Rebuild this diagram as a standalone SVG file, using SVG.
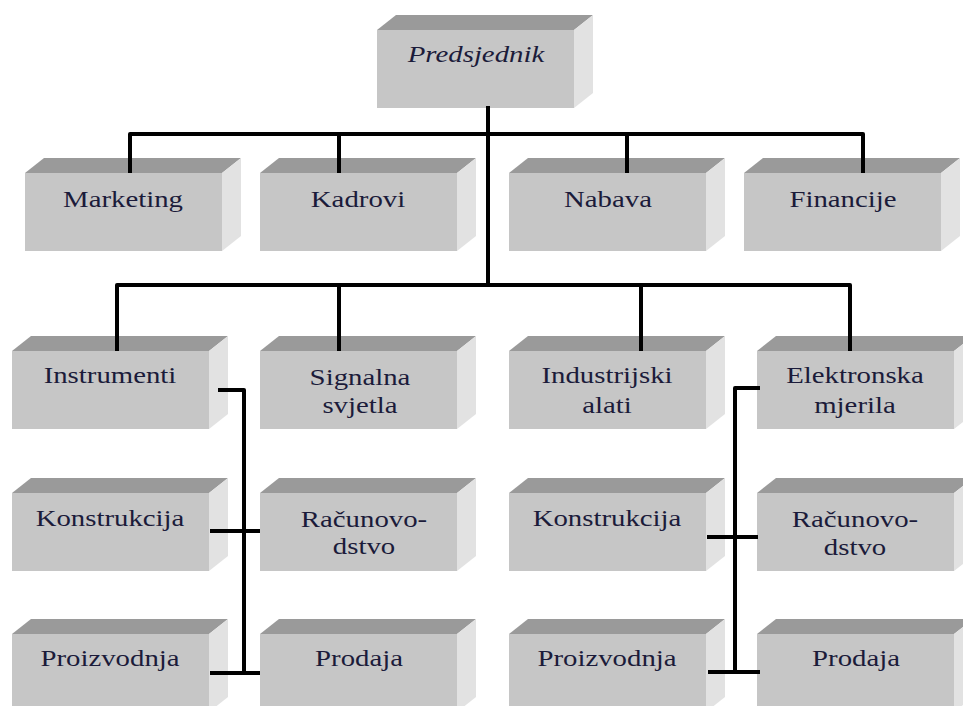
<svg xmlns="http://www.w3.org/2000/svg" xmlns:xlink="http://www.w3.org/1999/xlink" width="963" height="706" viewBox="0 0 963 706">
<style>
.t{font-family:'Liberation Serif','Times New Roman',Times,'DejaVu Serif',serif;font-size:24px;fill:#1b1b3a;text-anchor:middle}
.it{font-style:italic}
.c{fill:none;stroke:#000;stroke-width:4;stroke-linejoin:round;stroke-linecap:butt}
</style>
<defs>
<g id="box">
<rect x="0" y="0" width="197" height="78" fill="#c6c6c6"/>
<polygon points="0,0 19,-15 216,-15 197,0" fill="#9a9a9a"/>
<polygon points="197,0 216,-15 216,63 197,78" fill="#e2e2e2"/>
</g>
</defs>
<rect width="963" height="706" fill="#fff"/>

<g id="n-predsjednik"><use xlink:href="#box" x="377" y="30"/><text class="t it" font-family="Liberation Serif, serif" transform="translate(476,62) scale(1.2,1)">Predsjednik</text></g>

<g id="n-marketing"><use xlink:href="#box" x="25" y="173"/><text class="t" font-family="Liberation Serif, serif" transform="translate(123,207) scale(1.2,1)">Marketing</text></g>
<g id="n-kadrovi"><use xlink:href="#box" x="260" y="173"/><text class="t" transform="translate(358,207) scale(1.2,1)">Kadrovi</text></g>
<g id="n-nabava"><use xlink:href="#box" x="509" y="173"/><text class="t" transform="translate(608,207) scale(1.2,1)">Nabava</text></g>
<g id="n-financije"><use xlink:href="#box" x="744" y="173"/><text class="t" transform="translate(843,207) scale(1.2,1)">Financije</text></g>

<g id="n-instrumenti"><use xlink:href="#box" x="12" y="351"/><text class="t" transform="translate(110,383) scale(1.2,1)">Instrumenti</text></g>
<g id="n-signalna"><use xlink:href="#box" x="260" y="351"/><text class="t" transform="translate(360,385) scale(1.2,1)">Signalna</text><text class="t" transform="translate(360,413) scale(1.2,1)">svjetla</text></g>
<g id="n-industrijski"><use xlink:href="#box" x="509" y="351"/><text class="t" transform="translate(607,383) scale(1.2,1)">Industrijski</text><text class="t" transform="translate(607,413) scale(1.2,1)">alati</text></g>
<g id="n-elektronska"><use xlink:href="#box" x="757" y="351"/><text class="t" transform="translate(855,383) scale(1.2,1)">Elektronska</text><text class="t" transform="translate(855,413) scale(1.2,1)">mjerila</text></g>

<g id="n-konstrukcija-1"><use xlink:href="#box" x="12" y="493"/><text class="t" transform="translate(110,526) scale(1.2,1)">Konstrukcija</text></g>
<g id="n-racunovodstvo-1"><use xlink:href="#box" x="260" y="493"/><text class="t" transform="translate(364,527) scale(1.2,1)">Računovo-</text><text class="t" transform="translate(364,554) scale(1.2,1)">dstvo</text></g>
<g id="n-konstrukcija-2"><use xlink:href="#box" x="509" y="493"/><text class="t" transform="translate(607,526) scale(1.2,1)">Konstrukcija</text></g>
<g id="n-racunovodstvo-2"><use xlink:href="#box" x="757" y="493"/><text class="t" transform="translate(855,527) scale(1.2,1)">Računovo-</text><text class="t" transform="translate(855,555) scale(1.2,1)">dstvo</text></g>

<g id="n-proizvodnja-1"><use xlink:href="#box" x="12" y="634"/><text class="t" transform="translate(110,666) scale(1.2,1)">Proizvodnja</text></g>
<g id="n-prodaja-1"><use xlink:href="#box" x="260" y="634"/><text class="t" transform="translate(359,666) scale(1.2,1)">Prodaja</text></g>
<g id="n-proizvodnja-2"><use xlink:href="#box" x="509" y="634"/><text class="t" transform="translate(607,666) scale(1.2,1)">Proizvodnja</text></g>
<g id="n-prodaja-2"><use xlink:href="#box" x="757" y="634"/><text class="t" transform="translate(856,666) scale(1.2,1)">Prodaja</text></g>

<g id="connectors">
<path class="c" d="M488,106 V285"/>
<path class="c" d="M130,173 V134 H863 V173"/>
<path class="c" d="M339,134 V173 M627,134 V173"/>
<path class="c" d="M117,351 V285 H850 V351"/>
<path class="c" d="M339,285 V351 M641,285 V351"/>
<path class="c" d="M218,390 H244 V673"/>
<path class="c" d="M210,531 H260 M210,673 H260"/>
<path class="c" d="M760,388 H735 V672"/>
<path class="c" d="M707,537 H758 M708,672 H760"/>
</g>
</svg>
